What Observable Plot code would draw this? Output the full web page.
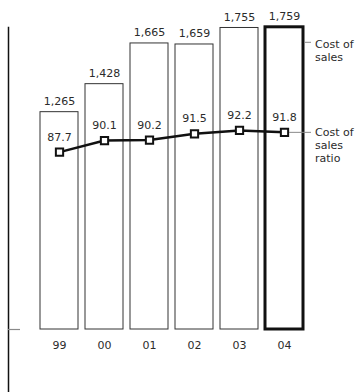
<!DOCTYPE html>
<html>
<head>
<meta charset="utf-8">
<script src="https://cdn.jsdelivr.net/npm/d3@7"></script>
<script src="https://cdn.jsdelivr.net/npm/@observablehq/plot@0.6"></script>
<style>
  html, body { margin: 0; padding: 0; background: #fff; }
  #chart { width: 356px; height: 392px; }
</style>
</head>
<body>
<div id="chart"></div>
<script>
// Fiscal years (two-digit labels)
const years = ["99", "00", "01", "02", "03", "04"];
// Cost of sales (bars)
const costOfSales = [1265, 1428, 1665, 1659, 1755, 1759];
// Cost of sales ratio, % (line)
const costRatio = [87.7, 90.1, 90.2, 91.5, 92.2, 91.8];
// Right-hand series labels
const seriesLabels = ["Cost of\nsales", "Cost of\nsales\nratio"];

const data = years.map((year, i) => ({year, cost: costOfSales[i], ratio: costRatio[i]}));
const latest = data[data.length - 1];

// The ratio line sits on its own hidden axis, mapped into the bar scale's units
const ratioY = d3.scaleLinear().domain([80, 100]).range([816, 1378]);

const ink = "#2b2b2b";
const grey = "#8a8a8a";

const chart = Plot.plot({
  width: 356,
  height: 392,
  marginTop: 27,
  marginRight: 0,
  marginBottom: 0,
  marginLeft: 8,
  style: {fontFamily: "DejaVu Sans, sans-serif", fontSize: "11px", color: ink, background: "#fff"},
  x: {domain: years, range: [38.7, 303.5], paddingInner: 0.16, paddingOuter: 0, axis: null},
  y: {domain: [0, 1915], range: [329, 0], axis: null},
  marks: [
    // vertical axis line and the baseline tick
    Plot.frame({anchor: "left", stroke: "#111", strokeWidth: 1.5}),
    Plot.tickY([0], {y: d => d, stroke: grey, strokeWidth: 1.2, insetRight: 356 - 8 - 12}),

    // bars: earlier years thin outline, latest year heavy outline
    Plot.barY(data.slice(0, -1), {x: "year", y: "cost", fill: "#fff", stroke: "#333", strokeWidth: 1}),
    Plot.barY([latest], {x: "year", y: "cost", fill: "#fff", stroke: "#111", strokeWidth: 3}),

    // bar value labels
    Plot.text(data, {x: "year", y: "cost", text: d => d3.format(",")(d.cost), dy: -11, lineAnchor: "middle"}),

    // ratio line with square markers
    Plot.line(data, {x: "year", y: d => ratioY(d.ratio), stroke: "#111", strokeWidth: 2.5}),
    Plot.dot(data, {x: "year", y: d => ratioY(d.ratio), symbol: "square", r: 4.1, fill: "#fff", stroke: "#111", strokeWidth: 2}),
    Plot.text(data, {x: "year", y: d => ratioY(d.ratio), text: d => d.ratio.toFixed(1), dy: -15, lineAnchor: "middle"}),

    // year labels under the bars
    Plot.text(data, {x: "year", y: () => 0, text: "year", dy: 16, lineAnchor: "middle"}),

    // series labels with leader lines on the right
    Plot.tickY([latest], {x: "year", y: "cost", dy: 15, stroke: grey, strokeWidth: 1, insetLeft: 40, insetRight: -8}),
    Plot.text([latest], {x: "year", y: "cost", text: () => seriesLabels[0], dx: 30.5, dy: 23, textAnchor: "start", lineAnchor: "middle", lineHeight: 1.2}),
    Plot.tickY([latest], {x: "year", y: d => ratioY(d.ratio), stroke: grey, strokeWidth: 1, insetLeft: 24, insetRight: -8}),
    Plot.text([latest], {x: "year", y: d => ratioY(d.ratio), text: () => seriesLabels[1], dx: 30.5, dy: 12.8, textAnchor: "start", lineAnchor: "middle", lineHeight: 1.18})
  ]
});

document.getElementById("chart").append(chart);
</script>
</body>
</html>
